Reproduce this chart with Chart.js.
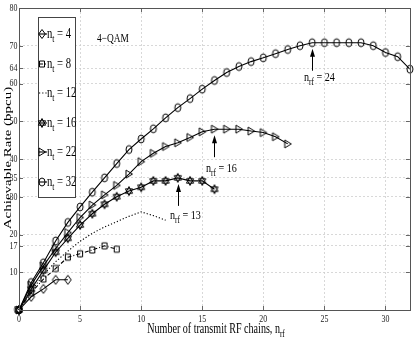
<!DOCTYPE html>
<html>
<head>
<meta charset="utf-8">
<script src="https://cdn.jsdelivr.net/npm/chart.js@4.4.1/dist/chart.umd.min.js"></script>
<style>
html, body { margin: 0; padding: 0; background: #fff; }
canvas { display: block; }
</style>
</head>
<body>
<canvas id="rateChart" width="415" height="346"></canvas>
<script>
// number of transmit RF chains (x values)
const rfChains = [0, 1, 2, 3, 4, 5, 6, 7, 8, 9, 10, 11, 12, 13, 14, 15, 16,
    17, 18, 19, 20, 21, 22, 23, 24, 25, 26, 27, 28, 29, 30, 31, 32];

// achievable rate (bpcu), one list per number of transmit antennas
const rateNt4 = [0, 3.5, 5.6, 8, 8];
const rateNt8 = [0, 4.6, 8.2, 11, 14, 14.9, 15.9, 17, 16.1];
const rateNt12 = [0, 5, 9.3, 12.8, 15.6, 18.2, 20.3, 22, 23.4, 24.8, 26, 25, 23.8];
const rateNt16 = [0, 5.5, 10.5, 15.3, 19, 22.5, 25.5, 28, 30, 31.5, 32.5, 34.2, 34.2, 35, 34.2, 34.2, 32];
const rateNt22 = [0, 6.6, 11.7, 16.3, 20.5, 24.5, 27.8, 30.5, 33, 36, 39.3, 41.5, 43.3, 44.3,
    45.7, 47.2, 47.9, 47.9, 47.9, 47.4, 47, 45.9, 44];
const rateNt32 = [0, 7.3, 12.5, 18.3, 23.2, 27.3, 31.2, 35, 38.8, 42.5, 45.3, 48, 50.9, 53.6,
    56, 58.5, 60.8, 62.9, 64.5, 65.8, 66.8, 67.9, 69, 70, 70.8, 70.8, 70.8, 70.8, 70.8, 70, 68.2, 67.1, 63.8];

const seriesNames = ['4', '8', '12', '16', '22', '32'];
const xTicks = [0, 5, 10, 15, 20, 25, 30];
const yTicks = [0, 10, 17, 20, 30, 35, 40, 50, 60, 64, 70, 80];

const FONT = '"Liberation Serif", "Times New Roman", serif';

function makeMarker(kind) {
    let c = document.createElement('canvas');
    c.width = 12;
    c.height = 12;
    let g = c.getContext('2d');
    g.strokeStyle = '#000';
    g.lineWidth = 1;
    g.beginPath();
    let cx = 6, cy = 6;
    if (kind === 'circle') {
        g.ellipse(cx, cy, 3, 4, 0, 0, Math.PI * 2);
    } else if (kind === 'square') {
        g.rect(cx - 2.5, cy - 3, 5, 6);
    } else if (kind === 'diamond') {
        g.moveTo(cx, cy - 4.5); g.lineTo(cx + 3.3, cy); g.lineTo(cx, cy + 4.5); g.lineTo(cx - 3.3, cy); g.closePath();
    } else if (kind === 'triangle') {
        g.moveTo(cx - 3, cy - 4); g.lineTo(cx + 3.5, cy); g.lineTo(cx - 3, cy + 4); g.closePath();
    } else if (kind === 'hexagram') {
        g.moveTo(cx, cy - 4.5); g.lineTo(cx + 3.6, cy + 2.2); g.lineTo(cx - 3.6, cy + 2.2); g.closePath();
        g.moveTo(cx, cy + 4.5); g.lineTo(cx + 3.6, cy - 2.2); g.lineTo(cx - 3.6, cy - 2.2); g.closePath();
    }
    g.stroke();
    return c;
}

const markers = {
    diamond: makeMarker('diamond'),
    square: makeMarker('square'),
    hexagram: makeMarker('hexagram'),
    triangle: makeMarker('triangle'),
    circle: makeMarker('circle')
};

function toPoints(values) {
    return values.map((v, i) => ({ x: rfChains[i], y: v }));
}

function line(values, marker, dash) {
    return {
        data: toPoints(values),
        borderColor: '#000',
        backgroundColor: 'transparent',
        borderWidth: 1.1,
        borderDash: dash || [],
        pointStyle: marker ? markers[marker] : false,
        pointRadius: marker ? 4 : 0,
        pointHoverRadius: marker ? 4 : 0,
        fill: false,
        tension: 0,
        clip: false
    };
}

const legendStyles = [
    { marker: 'diamond', dash: [] },
    { marker: 'square', dash: [4, 2, 1, 2] },
    { marker: null, dash: [1.2, 2] },
    { marker: 'hexagram', dash: [] },
    { marker: 'triangle', dash: [] },
    { marker: 'circle', dash: [] }
];

// draws text with a subscript, squeezed horizontally like the original figure
function subText(ctx, x, y, parts, size, squeeze, measureOnly) {
    ctx.save();
    let w = 0;
    for (let p of parts) {
        ctx.font = (p[1] ? size * 0.72 : size) + 'px ' + FONT;
        w += ctx.measureText(p[0]).width;
    }
    if (measureOnly) {
        ctx.restore();
        return w * squeeze;
    }
    ctx.translate(x, y);
    ctx.scale(squeeze, 1);
    ctx.fillStyle = '#000';
    ctx.textBaseline = 'alphabetic';
    ctx.textAlign = 'left';
    let cx = 0;
    for (let p of parts) {
        ctx.font = (p[1] ? size * 0.72 : size) + 'px ' + FONT;
        ctx.fillText(p[0], cx, p[1] ? size * 0.3 : 0);
        cx += ctx.measureText(p[0]).width;
    }
    ctx.restore();
    return w * squeeze;
}

function tickText(ctx, txt, x, y, align, baseline) {
    ctx.save();
    ctx.translate(x, y);
    ctx.scale(0.72, 1);
    ctx.font = '11px ' + FONT;
    ctx.fillStyle = '#222';
    ctx.textAlign = align;
    ctx.textBaseline = baseline;
    ctx.fillText(txt, 0, 0);
    ctx.restore();
}

function arrow(ctx, x, tipY, tailY) {
    ctx.save();
    ctx.strokeStyle = '#000';
    ctx.fillStyle = '#000';
    ctx.lineWidth = 1;
    ctx.beginPath();
    ctx.moveTo(x, tailY);
    ctx.lineTo(x, tipY + 6);
    ctx.stroke();
    ctx.beginPath();
    ctx.moveTo(x, tipY);
    ctx.lineTo(x + 2.5, tipY + 8);
    ctx.lineTo(x - 2.5, tipY + 8);
    ctx.closePath();
    ctx.fill();
    ctx.restore();
}

const annotations = [
    { at: 24, value: 70.8, label: '24', textDy: 10 },
    { at: 16, value: 47.9, label: '16', textDy: 15 },
    { at: 13, value: 35, label: '13', textDy: 13 }
];

const decorPlugin = {
    id: 'decor',
    afterDraw(chart) {
        let ctx = chart.ctx;
        let a = chart.chartArea;
        let xs = chart.scales.x;
        let ys = chart.scales.y;

        // small inward tick marks and frame
        ctx.save();
        ctx.strokeStyle = '#666';
        ctx.lineWidth = 1;
        ctx.beginPath();
        for (let t of xTicks) {
            let px = Math.round(xs.getPixelForValue(t)) + 0.5;
            ctx.moveTo(px, a.bottom); ctx.lineTo(px, a.bottom - 4);
            ctx.moveTo(px, a.top); ctx.lineTo(px, a.top + 4);
        }
        for (let t of yTicks) {
            let py = Math.round(ys.getPixelForValue(t)) + 0.5;
            ctx.moveTo(a.left, py); ctx.lineTo(a.left + 4, py);
            ctx.moveTo(a.right, py); ctx.lineTo(a.right - 4, py);
        }
        ctx.stroke();
        ctx.strokeStyle = '#555';
        ctx.strokeRect(Math.round(a.left) + 0.5, Math.round(a.top) + 0.5,
            Math.round(a.right - a.left), Math.round(a.bottom - a.top));
        ctx.restore();

        // tick labels, narrow like the source figure
        for (let t of xTicks) {
            tickText(ctx, String(t), xs.getPixelForValue(t), a.bottom + 4, 'center', 'top');
        }
        for (let t of yTicks) {
            tickText(ctx, String(t), a.left - 1.5, ys.getPixelForValue(t), 'right', 'middle');
        }

        // legend box
        ctx.save();
        ctx.fillStyle = '#fff';
        ctx.fillRect(38, 17, 37, 180);
        ctx.strokeStyle = '#444';
        ctx.lineWidth = 1;
        ctx.strokeRect(38.5, 17.5, 37, 180);
        for (let i = 0; i < seriesNames.length; i++) {
            let yc = Math.round(34 + i * 29.6);
            let st = legendStyles[i];
            ctx.save();
            ctx.strokeStyle = '#000';
            ctx.lineWidth = 1.1;
            ctx.setLineDash(st.dash);
            ctx.beginPath();
            ctx.moveTo(39, yc);
            ctx.lineTo(47, yc);
            ctx.stroke();
            ctx.restore();
            if (st.marker) {
                ctx.drawImage(markers[st.marker], 42 - 6, yc - 6);
            }
            subText(ctx, 47, yc + 4, [['n', false], ['t', true], [' = ' + seriesNames[i], false]], 14, 0.76);
        }
        ctx.restore();

        // modulation label
        subText(ctx, 97, 42, [['4\u2212QAM', false]], 12, 0.78);

        // arrows marking the best number of RF chains
        for (let an of annotations) {
            let px = Math.round(xs.getPixelForValue(an.at)) + 0.5;
            let tip = ys.getPixelForValue(an.value) + 6;
            arrow(ctx, px, tip, tip + 22);
            subText(ctx, px - 8.5, tip + 22 + an.textDy, [['n', false], ['rf', true], [' = ' + an.label, false]], 13, 0.78);
        }

        // axis titles
        let xParts = [['Number of transmit RF chains, n', false], ['rf', true]];
        let w = subText(ctx, 0, 0, xParts, 14, 0.72, true);
        subText(ctx, 216 - w / 2, 333, xParts, 14, 0.72);

        ctx.save();
        ctx.translate(10.5, 158);
        ctx.rotate(-Math.PI / 2);
        ctx.scale(1, 0.72);
        ctx.font = '15px ' + FONT;
        ctx.fillStyle = '#000';
        ctx.textAlign = 'center';
        ctx.textBaseline = 'alphabetic';
        ctx.fillText('Achievable Rate (bpcu)', 0, 0);
        ctx.restore();
    }
};

Chart.defaults.font.family = FONT;

new Chart(document.getElementById('rateChart'), {
    type: 'line',
    data: {
        datasets: [
            line(rateNt4, 'diamond'),
            line(rateNt8, 'square', [4, 2, 1, 2]),
            line(rateNt12, null, [1.2, 2]),
            line(rateNt16, 'hexagram'),
            line(rateNt22, 'triangle'),
            line(rateNt32, 'circle')
        ]
    },
    options: {
        responsive: false,
        animation: false,
        devicePixelRatio: 1,
        events: [],
        layout: { padding: { left: 0, right: 3, top: 8, bottom: 0 } },
        plugins: {
            legend: { display: false },
            tooltip: { enabled: false }
        },
        scales: {
            x: {
                type: 'linear',
                min: 0,
                max: 32,
                afterBuildTicks: (s) => { s.ticks = xTicks.map(v => ({ value: v })); },
                afterFit: (s) => { s.height = 36; },
                grid: { color: '#cfcfcf', lineWidth: 0.8, drawTicks: false },
                border: { display: false, dash: [2, 2] },
                ticks: { display: false, autoSkip: false, maxRotation: 0 }
            },
            y: {
                type: 'linear',
                min: 0,
                max: 80,
                afterBuildTicks: (s) => { s.ticks = yTicks.map(v => ({ value: v })); },
                afterFit: (s) => { s.width = 19; },
                grid: { color: '#cfcfcf', lineWidth: 0.8, drawTicks: false },
                border: { display: false, dash: [2, 2] },
                ticks: { display: false, autoSkip: false }
            }
        }
    },
    plugins: [decorPlugin]
});
</script>
</body>
</html>
